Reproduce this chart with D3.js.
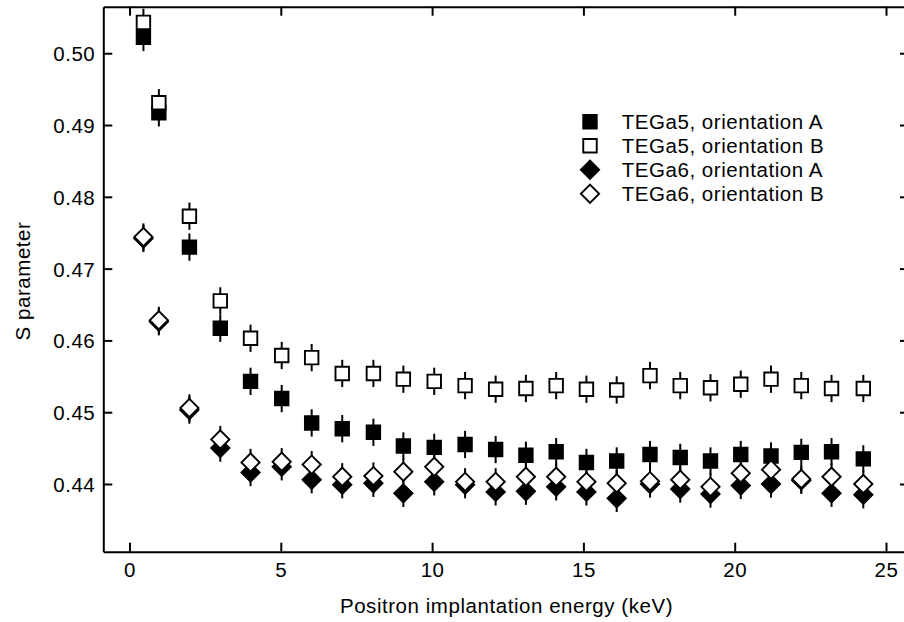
<!DOCTYPE html>
<html>
<head>
<meta charset="utf-8">
<script src="https://cdn.jsdelivr.net/npm/d3@7"></script>
<style>
  body { margin: 0; background: #fff; }
  text { font-family: "Liberation Sans", Arial, sans-serif; font-size: 20.5px; letter-spacing: 0.55px; fill: #000; }
</style>
</head>
<body>
<div id="chart"></div>
<script>
// positron implantation energy (keV), shared by all four series
var energy = [0.46, 0.97, 1.98, 3.0, 4.0, 5.03, 6.02, 7.03, 8.06, 9.05, 10.07, 11.09, 12.1, 13.1, 14.1, 15.1, 16.1, 17.2, 18.2, 19.2, 20.2, 21.2, 22.2, 23.2, 24.25];

// S parameter values
var tega5A = [0.5022, 0.4917, 0.4730, 0.4617, 0.4543, 0.4519, 0.4485, 0.4477, 0.4472, 0.4453, 0.4451, 0.4455, 0.4448, 0.4440, 0.4445, 0.4430, 0.4432, 0.4441, 0.4437, 0.4432, 0.4441, 0.4439, 0.4444, 0.4445, 0.4435];
var tega5B = [0.5043, 0.4931, 0.4773, 0.4655, 0.4603, 0.4579, 0.4576, 0.4554, 0.4554, 0.4546, 0.4543, 0.4537, 0.4532, 0.4533, 0.4537, 0.4532, 0.4531, 0.4551, 0.4537, 0.4534, 0.4539, 0.4546, 0.4537, 0.4533, 0.4533];
var tega6A = [0.4742, 0.4626, 0.4503, 0.4450, 0.4416, 0.4424, 0.4406, 0.4399, 0.4401, 0.4387, 0.4403, 0.4399, 0.4389, 0.4390, 0.4396, 0.4389, 0.4380, 0.4400, 0.4393, 0.4386, 0.4398, 0.4400, 0.4405, 0.4387, 0.4385];
var tega6B = [0.4744, 0.4628, 0.4506, 0.4462, 0.4430, 0.4431, 0.4427, 0.4410, 0.4411, 0.4417, 0.4424, 0.4403, 0.4403, 0.4410, 0.4410, 0.4403, 0.4401, 0.4404, 0.4406, 0.4396, 0.4415, 0.4420, 0.4407, 0.4410, 0.4400];
var sErr = 0.0019;

var xTicks = [0, 5, 10, 15, 20, 25];
var yTicks = [0.44, 0.45, 0.46, 0.47, 0.48, 0.49, 0.50];

var seriesNames = ["TEGa5, orientation A", "TEGa5, orientation B", "TEGa6, orientation A", "TEGa6, orientation B"];

// svg size and plot area
var svgWidth = 904;
var svgHeight = 622;
var margin = { top: 6.7, right: -5, bottom: 70.3, left: 103.3 };
var chartWidth = svgWidth - margin.left - margin.right;
var chartHeight = svgHeight - margin.top - margin.bottom;

var svg = d3.select("#chart")
    .append("svg")
    .attr("width", svgWidth)
    .attr("height", svgHeight);

var chartGroup = svg.append("g")
    .attr("transform", `translate(${margin.left}, ${margin.top})`);

// scales
var xScale = d3.scaleLinear()
    .domain([-0.866, 25.76])
    .range([0, chartWidth]);

var yScale = d3.scaleLinear()
    .domain([0.43057, 0.50648])
    .range([chartHeight, 0]);

// axes, ticks point inward on all four sides
var tickLen = 9;
var xAxisB = d3.axisBottom(xScale).tickValues(xTicks).tickSizeInner(-tickLen).tickSizeOuter(0).tickPadding(11);
var xAxisT = d3.axisTop(xScale).tickValues(xTicks).tickSizeInner(-tickLen).tickSizeOuter(0).tickFormat("");
var yAxisL = d3.axisLeft(yScale).tickValues(yTicks).tickSizeInner(-tickLen).tickSizeOuter(0).tickPadding(8).tickFormat(d3.format(".2f"));
var yAxisR = d3.axisRight(yScale).tickValues(yTicks).tickSizeInner(-tickLen).tickSizeOuter(0).tickFormat("");

chartGroup.append("g").attr("class", "axis")
    .attr("transform", `translate(0, ${chartHeight})`)
    .call(xAxisB);
chartGroup.append("g").attr("class", "axis").call(xAxisT);
chartGroup.append("g").attr("class", "axis yleft").call(yAxisL);
chartGroup.append("g").attr("class", "axis")
    .attr("transform", `translate(${chartWidth}, 0)`)
    .call(yAxisR);

chartGroup.selectAll(".axis path").attr("stroke", "#000").attr("stroke-width", 2);
chartGroup.selectAll(".axis line").attr("stroke", "#000").attr("stroke-width", 2);
chartGroup.selectAll(".axis text").attr("font-size", null).attr("font-family", null);
chartGroup.selectAll(".yleft text").attr("dy", "0.36em");

// axis titles
svg.append("text")
    .attr("x", 506.5)
    .attr("y", 613)
    .attr("text-anchor", "middle")
    .text("Positron implantation energy (keV)");

svg.append("text")
    .attr("transform", "translate(30, 281) rotate(-90)")
    .attr("text-anchor", "middle")
    .text("S parameter");

// markers
var squareSym = d3.symbol().type(d3.symbolSquare).size(182);
var diamondSym = d3.symbol().type(d3.symbolSquare).size(166);

var series = [
    { values: tega5A, fill: "#000", sym: squareSym, rot: 0 },
    { values: tega5B, fill: "#fff", sym: squareSym, rot: 0 },
    { values: tega6A, fill: "#000", sym: diamondSym, rot: 45 },
    { values: tega6B, fill: "#fff", sym: diamondSym, rot: 45 }
];

series.forEach(function(s) {
    var pts = energy.map((e, i) => ({ e: e, v: s.values[i] }));
    var g = chartGroup.append("g");

    // error bars
    g.selectAll("line")
        .data(pts)
        .enter()
        .append("line")
        .attr("x1", d => xScale(d.e))
        .attr("x2", d => xScale(d.e))
        .attr("y1", d => yScale(d.v - sErr))
        .attr("y2", d => yScale(d.v + sErr))
        .attr("stroke", "#000")
        .attr("stroke-width", 2);

    g.selectAll("path")
        .data(pts)
        .enter()
        .append("path")
        .attr("d", s.sym)
        .attr("transform", d => `translate(${xScale(d.e)}, ${yScale(d.v)}) rotate(${s.rot})`)
        .attr("fill", s.fill)
        .attr("stroke", "#000")
        .attr("stroke-width", 1.9);
});

// legend
var legend = svg.append("g").attr("transform", "translate(590, 121.7)");
series.forEach(function(s, i) {
    legend.append("path")
        .attr("d", s.sym)
        .attr("transform", `translate(0, ${i * 24}) rotate(${s.rot})`)
        .attr("fill", s.fill)
        .attr("stroke", "#000")
        .attr("stroke-width", 1.9);
    legend.append("text")
        .attr("x", 31.7)
        .attr("y", i * 24)
        .attr("dy", "0.36em")
        .text(seriesNames[i]);
});
</script>
</body>
</html>
